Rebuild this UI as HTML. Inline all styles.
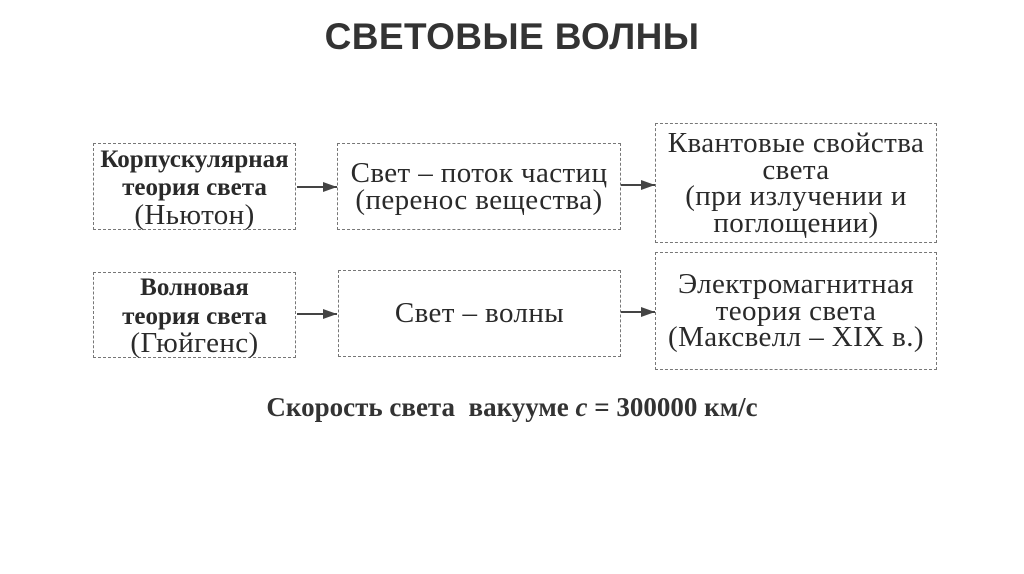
<!DOCTYPE html>
<html><head><meta charset="utf-8"><style>
body{margin:0;width:1024px;height:574px;background:#fff;position:relative;overflow:hidden;font-family:"Liberation Serif",serif;color:#2a2a2a}
.t{position:absolute;left:0;width:1024px;top:16px;text-align:center;font:bold 37px "Liberation Sans",sans-serif;color:#333;letter-spacing:0.4px}
.b{position:absolute;border:1.5px dashed #777;box-sizing:border-box;display:flex;align-items:center;justify-content:center;text-align:center;font-size:29px;line-height:26.5px;letter-spacing:0.4px;white-space:nowrap}
.bold{font-weight:bold;letter-spacing:0}
.ar{position:absolute;height:2px;background:#444}
.ar::after{content:"";position:absolute;right:0;top:-4px;border-left:14px solid #444;border-top:5px solid transparent;border-bottom:5px solid transparent}
.f{position:absolute;left:0;width:1024px;top:392px;text-align:center;font:bold 27px "Liberation Serif",serif;color:#333}
</style></head><body>
<div class="t">СВЕТОВЫЕ ВОЛНЫ</div>
<div class="b" style="left:93px;top:143px;width:203px;height:87px"><div><span class="bold" style="font-size:25px">Корпускулярная<br>теория света</span><br>(Ньютон)</div></div>
<div class="b" style="left:337px;top:143px;width:284px;height:87px"><div>Свет – поток частиц<br>(перенос вещества)</div></div>
<div class="b" style="left:655px;top:123px;width:282px;height:120px"><div>Квантовые свойства<br>света<br>(при излучении и<br>поглощении)</div></div>
<div class="b" style="left:93px;top:272px;width:203px;height:86px"><div><span class="bold" style="font-size:25px">Волновая<br>теория света</span><br>(Гюйгенс)</div></div>
<div class="b" style="left:338px;top:270px;width:283px;height:87px"><div>Свет – волны</div></div>
<div class="b" style="left:655px;top:252px;width:282px;height:118px"><div>Электромагнитная<br>теория света<br>(Максвелл – XIX в.)</div></div>
<div class="ar" style="left:297px;top:186px;width:40px"></div>
<div class="ar" style="left:621px;top:184px;width:34px"></div>
<div class="ar" style="left:297px;top:313px;width:40px"></div>
<div class="ar" style="left:621px;top:311px;width:34px"></div>
<div class="f">Скорость света&nbsp; вакууме <i>c</i> = 300000 км/с</div>
</body></html>
